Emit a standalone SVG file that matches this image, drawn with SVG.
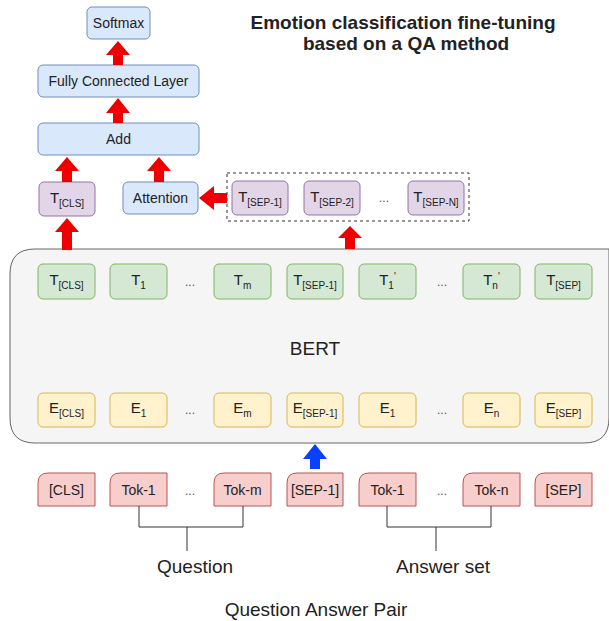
<svg xmlns="http://www.w3.org/2000/svg" width="609" height="621" viewBox="0 0 609 621">
<style>
text{font-family:"Liberation Sans",Arial,sans-serif;fill:#222;text-anchor:middle}
.lbl{font-size:14px}
.tl{font-size:15px}
.sub{font-size:10px}
.big{font-size:19px}
.blue{fill:#dae8fc;stroke:#6c8ebf;stroke-width:1}
.pur{fill:#e1d5e7;stroke:#9673a6;stroke-width:1}
.grn{fill:#d5e8d4;stroke:#82b366;stroke-width:1}
.yel{fill:#fff2cc;stroke:#d6b656;stroke-width:1}
.tok{fill:#f8cecc;stroke:#b85450;stroke-width:1}
.red{fill:#ee0000}
.bl{fill:#0a40ff}
.ln{fill:none;stroke:#333;stroke-width:1}
.dots{font-size:12px;fill:#555}
</style>
<rect width="609" height="621" fill="#fff"/>
<g id="title"><text x="403" y="29" style="font-size:19px;font-weight:bold">Emotion classification fine-tuning</text><text x="406" y="50" style="font-size:19px;font-weight:bold">based on a QA method</text></g>
<g id="bert"><path d="M35 249 H609 V418 Q609 443 584 443 H35 Q10 443 10 418 V274 Q10 249 35 249 Z" fill="#f5f5f5" stroke="#666" stroke-width="1"/><text class="big" x="315" y="355">BERT</text></g>
<g id="softmax"><rect class="blue" x="87" y="7" width="63" height="32" rx="5"/><text class="lbl" x="118.5" y="28">Softmax</text></g>
<g id="fc"><rect class="blue" x="38" y="65" width="161" height="32" rx="5"/><text class="lbl" x="118.5" y="86">Fully Connected Layer</text></g>
<g id="add"><rect class="blue" x="38" y="123" width="161" height="32" rx="5"/><text class="lbl" x="118.5" y="144">Add</text></g>
<g id="tcls_top"><rect class="pur" x="39" y="182" width="56" height="34" rx="5"/><text class="tl" x="67" y="203">T<tspan class="sub" dy="4">[CLS]</tspan></text></g>
<g id="attention"><rect class="blue" x="123" y="182" width="75" height="32" rx="5"/><text class="lbl" x="160.5" y="203">Attention</text></g>
<g id="sepgroup"><rect x="227" y="173" width="242" height="48" fill="none" stroke="#333" stroke-width="1" stroke-dasharray="3,3"/>
<g id="tsep1"><rect class="pur" x="232" y="181" width="56" height="34" rx="5"/><text class="tl" x="260" y="202">T<tspan class="sub" dy="4">[SEP-1]</tspan></text></g>
<g id="tsep2"><rect class="pur" x="304" y="181" width="56" height="34" rx="5"/><text class="tl" x="332" y="202">T<tspan class="sub" dy="4">[SEP-2]</tspan></text></g>
<text class="dots" x="384" y="202">...</text>
<g id="tsepn"><rect class="pur" x="408" y="181" width="56" height="34" rx="5"/><text class="tl" x="436" y="202">T<tspan class="sub" dy="4">[SEP-N]</tspan></text></g>
</g>
<g id="trow">
<g id="t_cls"><rect class="grn" x="38" y="264" width="57" height="35" rx="5"/><text class="tl" x="66.5" y="285">T<tspan class="sub" dy="4">[CLS]</tspan></text></g>
<g id="t_1"><rect class="grn" x="110" y="264" width="57" height="35" rx="5"/><text class="tl" x="138.5" y="285">T<tspan class="sub" dy="4">1</tspan></text></g>
<text class="dots" x="190" y="286">...</text>
<g id="t_m"><rect class="grn" x="214" y="264" width="57" height="35" rx="5"/><text class="tl" x="242.5" y="285">T<tspan class="sub" dy="4">m</tspan></text></g>
<g id="t_sep1"><rect class="grn" x="287" y="264" width="56" height="35" rx="5"/><text class="tl" x="315" y="285">T<tspan class="sub" dy="4">[SEP-1]</tspan></text></g>
<g id="t_1p"><rect class="grn" x="359" y="264" width="57" height="35" rx="5"/><text class="tl" x="387.5" y="285">T<tspan class="sub" dy="4">1</tspan><tspan class="sub" dy="-9">'</tspan></text></g>
<text class="dots" x="442" y="286">...</text>
<g id="t_np"><rect class="grn" x="463" y="264" width="57" height="35" rx="5"/><text class="tl" x="491.5" y="285">T<tspan class="sub" dy="4">n</tspan><tspan class="sub" dy="-9">'</tspan></text></g>
<g id="t_sep"><rect class="grn" x="535" y="264" width="57" height="35" rx="5"/><text class="tl" x="563.5" y="285">T<tspan class="sub" dy="4">[SEP]</tspan></text></g>
</g>
<g id="erow">
<g id="e_cls"><rect class="yel" x="38" y="393" width="57" height="34" rx="5"/><text class="tl" x="66.5" y="413">E<tspan class="sub" dy="4">[CLS]</tspan></text></g>
<g id="e_1"><rect class="yel" x="110" y="393" width="57" height="34" rx="5"/><text class="tl" x="138.5" y="413">E<tspan class="sub" dy="4">1</tspan></text></g>
<text class="dots" x="190" y="414">...</text>
<g id="e_m"><rect class="yel" x="214" y="393" width="57" height="34" rx="5"/><text class="tl" x="242.5" y="413">E<tspan class="sub" dy="4">m</tspan></text></g>
<g id="e_sep1"><rect class="yel" x="287" y="393" width="56" height="34" rx="5"/><text class="tl" x="315" y="413">E<tspan class="sub" dy="4">[SEP-1]</tspan></text></g>
<g id="e_1b"><rect class="yel" x="359" y="393" width="57" height="34" rx="5"/><text class="tl" x="387.5" y="413">E<tspan class="sub" dy="4">1</tspan></text></g>
<text class="dots" x="442" y="414">...</text>
<g id="e_n"><rect class="yel" x="463" y="393" width="57" height="34" rx="5"/><text class="tl" x="491.5" y="413">E<tspan class="sub" dy="4">n</tspan></text></g>
<g id="e_sep"><rect class="yel" x="535" y="393" width="57" height="34" rx="5"/><text class="tl" x="563.5" y="413">E<tspan class="sub" dy="4">[SEP]</tspan></text></g>
</g>
<g id="tokens">
<g id="tok_cls"><path class="tok" d="M38 506 V483 Q38 473 48 473 H95 V506 Z"/><text class="lbl" x="66.5" y="495">[CLS]</text></g>
<g id="tok_1"><path class="tok" d="M110 506 V483 Q110 473 120 473 H167 V506 Z"/><text class="lbl" x="138.5" y="495">Tok-1</text></g>
<text class="dots" x="190" y="495">...</text>
<g id="tok_m"><path class="tok" d="M214 506 V483 Q214 473 224 473 H271 V506 Z"/><text class="lbl" x="242.5" y="495">Tok-m</text></g>
<g id="tok_sep1"><path class="tok" d="M287 506 V483 Q287 473 297 473 H343 V506 Z"/><text class="lbl" x="315" y="495">[SEP-1]</text></g>
<g id="tok_a1"><path class="tok" d="M359 506 V483 Q359 473 369 473 H416 V506 Z"/><text class="lbl" x="387.5" y="495">Tok-1</text></g>
<text class="dots" x="442" y="495">...</text>
<g id="tok_n"><path class="tok" d="M463 506 V483 Q463 473 473 473 H520 V506 Z"/><text class="lbl" x="491.5" y="495">Tok-n</text></g>
<g id="tok_sep"><path class="tok" d="M535 506 V483 Q535 473 545 473 H592 V506 Z"/><text class="lbl" x="563.5" y="495">[SEP]</text></g>
</g>
<g id="labels">
<text class="big" x="195" y="573">Question</text>
<text class="big" x="443" y="573">Answer set</text>
<text class="big" x="316" y="616">Question Answer Pair</text>
</g>
<g id="connectors">
<polygon class="red" points="118,41 130,55 123,55 123,65 113,65 113,55 106,55"/>
<polygon class="red" points="118,98 130,113 123,113 123,123 113,123 113,113 106,113"/>
<polygon class="red" points="67,157 79,171 72,171 72,182 62,182 62,171 55,171"/>
<polygon class="red" points="159,157 171,171 164,171 164,182 154,182 154,171 147,171"/>
<polygon class="red" points="199,198 214,186 214,193 227,193 227,203 214,203 214,210"/>
<polygon class="red" points="67,218 79,232 72,232 72,250 62,250 62,232 55,232"/>
<polygon class="red" points="350,226 362,238 355,238 355,249 345,249 345,238 338,238"/>
<polygon class="bl" points="315,444 327,459 320,459 320,469 310,469 310,459 303,459"/>
<polyline class="ln" points="139,506 139,527 243,527 243,506"/>
<line class="ln" x1="187" y1="527" x2="187" y2="551"/>
<polyline class="ln" points="387,506 387,527 491,527 491,506"/>
<line class="ln" x1="436" y1="527" x2="436" y2="551"/>
</g>
</svg>
